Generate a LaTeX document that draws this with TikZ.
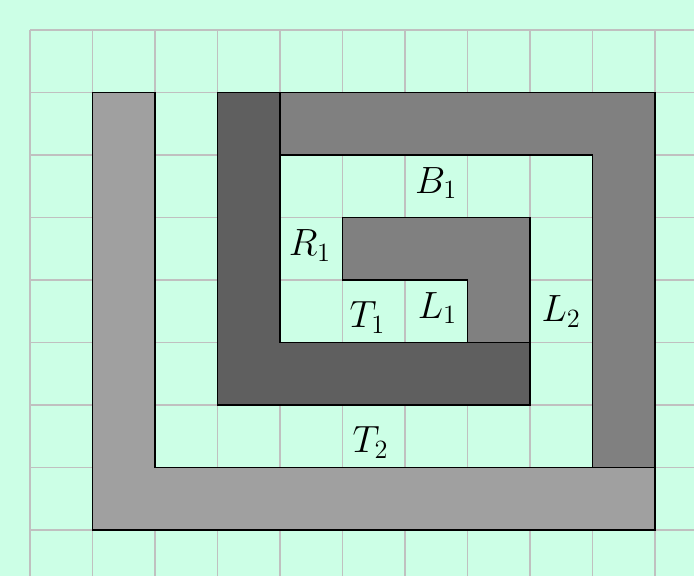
\documentclass[tikz,border=0pt]{standalone}
\begin{document}
\begin{tikzpicture}[x=1cm,y=-1cm,
  piece/.style={draw=black,line width=0.6pt},
  lab/.style={font=\fontsize{18.5}{22}\selectfont}]
\definecolor{bgmint}{RGB}{204,255,230}
\definecolor{gridgray}{RGB}{192,192,192}
\definecolor{lightpiece}{RGB}{160,160,160}
\definecolor{midpiece}{RGB}{128,128,128}
\definecolor{darkpiece}{RGB}{95,95,95}
\fill[bgmint] (-0.48,-0.48) rectangle (10.624,8.736);
\useasboundingbox (-0.48,-0.48) rectangle (10.624,8.736);
\begin{scope}
\clip (-0.48,-0.48) rectangle (10.624,8.736);
\draw[gridgray,line width=0.5pt] (0,0) grid (11,9);
\end{scope}
\filldraw[piece,fill=lightpiece] (1,1) -- (2,1) -- (2,7) -- (10,7) -- (10,8) -- (1,8) -- cycle;
\filldraw[piece,fill=midpiece] (4,1) -- (10,1) -- (10,7) -- (9,7) -- (9,2) -- (4,2) -- cycle;
\filldraw[piece,fill=darkpiece] (3,1) -- (4,1) -- (4,5) -- (8,5) -- (8,6) -- (3,6) -- cycle;
\filldraw[piece,fill=midpiece] (5,3) -- (8,3) -- (8,5) -- (7,5) -- (7,4) -- (5,4) -- cycle;
\node[lab] (b1) at (6.5,2.45) {$B_1$};
\node[lab] (r1) at (4.48,3.45) {$R_1$};
\node[lab] (t1) at (5.4,4.6) {$T_1$};
\node[lab] (l1) at (6.52,4.45) {$L_1$};
\node[lab] (l2) at (8.5,4.5) {$L_2$};
\node[lab] (t2) at (5.45,6.6) {$T_2$};
\end{tikzpicture}
\end{document}
